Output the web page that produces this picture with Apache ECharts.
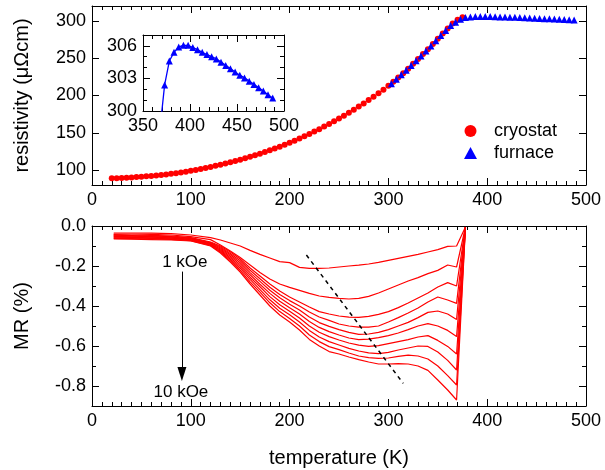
<!DOCTYPE html>
<html>
<head>
<meta charset="utf-8">
<script src="https://cdn.jsdelivr.net/npm/echarts@6/dist/echarts.min.js"></script>
<style>html,body{margin:0;background:#fff}#main{width:605px;height:470px}</style>
</head>
<body>
<div id="main"></div>
<script>
// resistivity, cryostat (K, µΩcm)
const tempCryo = [20, 25, 30, 35, 40, 45, 50, 55, 60, 65, 70, 75, 80, 85, 90, 95, 100, 105, 110, 115,
  120, 125, 130, 135, 140, 145, 150, 155, 160, 165, 170, 175, 180, 185, 190, 195, 200, 205, 210, 215,
  220, 225, 230, 235, 240, 245, 250, 255, 260, 265, 270, 275, 280, 285, 290, 295, 300, 305, 310, 315,
  320, 325, 330, 335, 340, 345, 350, 355, 360, 365, 370, 375];
const rhoCryo = [89.0, 89.2, 89.5, 89.8, 90.2, 90.6, 91.1, 91.6, 92.2, 92.8, 93.5, 94.2, 95.0, 95.9, 96.9, 97.9, 99.0, 100.2, 101.5, 102.8,
  104.2, 105.7, 107.2, 108.8, 110.5, 112.2, 114.0, 115.9, 117.9, 119.9, 122.0, 124.2, 126.5, 128.9, 131.4, 134.0, 136.7, 139.4, 142.3, 145.3,
  148.4, 151.6, 154.9, 158.3, 161.8, 165.4, 169.1, 172.9, 176.8, 180.9, 185.1, 189.4, 193.8, 198.3, 203.0, 207.8, 213.0, 218.5, 224.0, 230.0,
  236.0, 242.5, 249.0, 255.5, 262.0, 269.0, 276.0, 283.0, 290.0, 296.5, 301.5, 304.8];

// resistivity, furnace
const tempFurn = [303, 308, 313, 318, 323, 328, 333, 338, 343, 348, 353, 358, 363, 368, 373, 378, 383, 388, 393, 398,
  403, 408, 413, 418, 423, 428, 433, 438, 443, 448, 453, 458, 463, 468, 473, 478, 483, 488];
const rhoFurn = [215.7, 221.8, 227.8, 233.8, 240.2, 246.6, 253.0, 259.5, 266.3, 273.3, 280.3, 287.3, 294.0, 298.3, 302.4, 304.6, 305.4, 305.9, 306.05, 306.05,
  305.85, 305.65, 305.4, 305.2, 305.0, 304.8, 304.5, 304.2, 303.9, 303.6, 303.3, 303.05, 302.75, 302.45, 302.15, 301.85, 301.5, 301.2];

// magnetoresistance (%), 1..10 kOe
const tempMR = [22, 40, 60, 80, 100, 120, 130, 140, 150, 160, 170, 180, 190, 200, 210, 220, 230, 240, 250, 260,
  270, 280, 290, 300, 310, 320, 330, 340, 350, 360, 369, 378];
const mr1 = [-0.035, -0.035, -0.036, -0.038, -0.045, -0.058, -0.07, -0.085, -0.1, -0.122, -0.142, -0.16, -0.178, -0.183, -0.207, -0.212, -0.212, -0.21, -0.205, -0.2,
  -0.196, -0.19, -0.182, -0.172, -0.162, -0.152, -0.142, -0.13, -0.118, -0.102, -0.1, -0.005];
const mr2 = [-0.04, -0.04, -0.042, -0.045, -0.053, -0.068, -0.095, -0.125, -0.158, -0.195, -0.232, -0.265, -0.29, -0.307, -0.322, -0.337, -0.35, -0.357, -0.362, -0.365,
  -0.362, -0.352, -0.335, -0.315, -0.295, -0.275, -0.258, -0.238, -0.222, -0.195, -0.205, -0.005];
const mr3 = [-0.043, -0.045, -0.047, -0.05, -0.058, -0.08, -0.1, -0.13, -0.165, -0.21, -0.25, -0.29, -0.325, -0.355, -0.38, -0.405, -0.428, -0.44, -0.45, -0.456,
  -0.457, -0.452, -0.442, -0.428, -0.408, -0.385, -0.36, -0.335, -0.305, -0.283, -0.3, -0.005];
const mr4 = [-0.046, -0.048, -0.05, -0.053, -0.06, -0.083, -0.105, -0.137, -0.174, -0.221, -0.264, -0.306, -0.342, -0.373, -0.4, -0.43, -0.455, -0.472, -0.49, -0.5,
  -0.506, -0.506, -0.5, -0.48, -0.458, -0.435, -0.41, -0.38, -0.355, -0.37, -0.387, -0.005];
const mr5 = [-0.049, -0.051, -0.053, -0.056, -0.063, -0.086, -0.11, -0.144, -0.184, -0.233, -0.277, -0.321, -0.359, -0.391, -0.42, -0.455, -0.483, -0.502, -0.518, -0.532,
  -0.542, -0.54, -0.532, -0.518, -0.5, -0.482, -0.458, -0.432, -0.425, -0.44, -0.467, -0.005];
const mr6 = [-0.052, -0.054, -0.056, -0.059, -0.065, -0.089, -0.115, -0.151, -0.193, -0.244, -0.291, -0.337, -0.376, -0.409, -0.44, -0.478, -0.507, -0.528, -0.545, -0.56,
  -0.568, -0.566, -0.558, -0.548, -0.535, -0.518, -0.5, -0.488, -0.5, -0.522, -0.553, -0.005];
const mr7 = [-0.056, -0.057, -0.059, -0.061, -0.068, -0.091, -0.12, -0.159, -0.202, -0.256, -0.304, -0.353, -0.394, -0.426, -0.46, -0.5, -0.531, -0.553, -0.57, -0.585,
  -0.596, -0.602, -0.598, -0.588, -0.578, -0.568, -0.555, -0.548, -0.572, -0.602, -0.64, -0.005];
const mr8 = [-0.059, -0.06, -0.062, -0.064, -0.07, -0.094, -0.125, -0.166, -0.211, -0.267, -0.318, -0.369, -0.411, -0.444, -0.48, -0.522, -0.555, -0.578, -0.595, -0.612,
  -0.625, -0.634, -0.638, -0.632, -0.62, -0.61, -0.6, -0.602, -0.63, -0.672, -0.72, -0.005];
const mr9 = [-0.062, -0.063, -0.065, -0.067, -0.073, -0.097, -0.13, -0.173, -0.221, -0.279, -0.331, -0.384, -0.428, -0.462, -0.5, -0.545, -0.578, -0.603, -0.618, -0.635,
  -0.65, -0.658, -0.662, -0.66, -0.652, -0.646, -0.65, -0.665, -0.7, -0.748, -0.795, -0.005];
const mr10 = [-0.065, -0.066, -0.068, -0.07, -0.075, -0.1, -0.135, -0.18, -0.23, -0.29, -0.345, -0.4, -0.445, -0.48, -0.52, -0.567, -0.6, -0.628, -0.64, -0.655,
  -0.668, -0.68, -0.69, -0.69, -0.688, -0.69, -0.7, -0.722, -0.77, -0.82, -0.87, -0.005];
const mrCurves = [mr1, mr2, mr3, mr4, mr5, mr6, mr7, mr8, mr9, mr10];

// annotations in the MR panel (data coords)
const guideLine = [[217, -0.145], [315, -0.787]];
const arrowFrom = [91, -0.228];
const arrowTo = [91, -0.74];
const fieldLabels = [{name: '1 kOe', value: [94, -0.183]}, {name: '10 kOe', value: [90, -0.83]}];

const rhoTicks = [100, 150, 200, 250, 300];
const mrMajorTicks = [-0.8, -0.6, -0.4, -0.2, 0];

const FONT = 'Liberation Sans, Arial, sans-serif';
const chart = echarts.init(document.getElementById('main'));

function zip(xs, ys) {
  return xs.map((x, i) => [x, ys[i]]);
}

// one side of a boxed frame, ticks pointing inward
function side(extra, labels) {
  let a = {
    type: 'value',
    axisLine: {show: true, onZero: false, lineStyle: {color: '#000', width: 1}},
    axisTick: {show: true, inside: true, length: 7, lineStyle: {color: '#000'}},
    splitLine: {show: false},
    axisLabel: {show: labels, color: '#000', fontSize: 18, fontFamily: FONT, margin: 6}
  };
  return Object.assign(a, extra);
}

let mrSeries = mrCurves.map((c, i) => ({
  name: (i + 1) + ' kOe',
  type: 'line',
  xAxisIndex: 2,
  yAxisIndex: 2,
  data: zip(tempMR, c),
  symbol: 'none',
  lineStyle: {color: '#ff0000', width: 1.2},
  z: 3
}));

let option = {
  animation: false,
  backgroundColor: '#fff',
  textStyle: {fontFamily: FONT},
  grid: [
    {left: 92, top: 6, width: 494, height: 179},
    {left: 92, top: 226, width: 494, height: 180},
    {left: 143, top: 35, width: 141, height: 76, show: true, backgroundColor: '#fff', borderWidth: 0}
  ],
  legend: {
    data: ['cryostat', 'furnace'],
    orient: 'vertical',
    left: 459,
    top: 117,
    itemWidth: 13,
    itemHeight: 12,
    itemGap: 4,
    textStyle: {fontSize: 18, color: '#000', fontFamily: FONT, padding: [0, 0, 0, 12]}
  },
  xAxis: [
    side({gridIndex: 0, position: 'bottom', min: 0, max: 500, interval: 100,
      minorTick: {show: true, splitNumber: 10, length: 4, lineStyle: {color: '#000'}}}, true),
    side({gridIndex: 0, position: 'top', min: 0, max: 500, interval: 100,
      minorTick: {show: true, splitNumber: 10, length: 4, lineStyle: {color: '#000'}}}, false),
    side({gridIndex: 1, position: 'bottom', min: 0, max: 500, interval: 100,
      name: 'temperature (K)', nameLocation: 'middle', nameGap: 42,
      nameTextStyle: {fontSize: 20, color: '#000', fontFamily: FONT},
      minorTick: {show: true, splitNumber: 10, length: 4, lineStyle: {color: '#000'}}}, true),
    side({gridIndex: 1, position: 'top', min: 0, max: 500, interval: 100,
      minorTick: {show: true, splitNumber: 10, length: 4, lineStyle: {color: '#000'}}}, false),
    side({gridIndex: 2, position: 'bottom', min: 350, max: 500, interval: 50,
      minorTick: {show: true, splitNumber: 5, length: 4, lineStyle: {color: '#000'}}}, true),
    side({gridIndex: 2, position: 'top', min: 350, max: 500, interval: 50,
      minorTick: {show: true, splitNumber: 5, length: 4, lineStyle: {color: '#000'}}}, false)
  ],
  yAxis: [
    side({gridIndex: 0, position: 'left', min: 80, max: 320,
      name: 'resistivity (μΩcm)', nameLocation: 'middle', nameGap: 60,
      nameTextStyle: {fontSize: 20, color: '#000', fontFamily: FONT}}, true),
    side({gridIndex: 0, position: 'right', min: 80, max: 320}, false),
    side({gridIndex: 1, position: 'left', min: -0.9, max: 0, interval: 0.1,
      name: 'MR (%)', nameLocation: 'middle', nameGap: 60,
      nameTextStyle: {fontSize: 20, color: '#000', fontFamily: FONT}}, true),
    side({gridIndex: 1, position: 'right', min: -0.9, max: 0, interval: 0.1}, false),
    side({gridIndex: 1, position: 'left', min: -0.9, max: 0}, false),
    side({gridIndex: 1, position: 'right', min: -0.9, max: 0}, false),
    side({gridIndex: 2, position: 'left', min: 300, max: 307, interval: 3,
      minorTick: {show: true, splitNumber: 3, length: 4, lineStyle: {color: '#000'}}}, true),
    side({gridIndex: 2, position: 'right', min: 300, max: 307, interval: 3,
      minorTick: {show: true, splitNumber: 3, length: 4, lineStyle: {color: '#000'}}}, false)
  ],
  series: [
    {
      name: 'cryostat', type: 'scatter', xAxisIndex: 0, yAxisIndex: 0,
      data: zip(tempCryo, rhoCryo), symbol: 'circle', symbolSize: 6,
      itemStyle: {color: '#ff0000', opacity: 1}, z: 3
    },
    {
      name: 'furnace', type: 'scatter', xAxisIndex: 0, yAxisIndex: 0,
      data: zip(tempFurn, rhoFurn), symbol: 'triangle', symbolSize: 7,
      itemStyle: {color: '#0000ff', opacity: 1}, z: 4
    },
    {
      name: 'furnace-inset', type: 'line', xAxisIndex: 4, yAxisIndex: 6,
      data: zip(tempFurn, rhoFurn), symbol: 'triangle', symbolSize: 7, showAllSymbol: true,
      itemStyle: {color: '#0000ff'}, lineStyle: {color: '#0000ff', width: 1.3}, clip: true, z: 5
    }
  ].concat(mrSeries).concat([
    {
      name: 'guide', type: 'line', xAxisIndex: 2, yAxisIndex: 2,
      data: guideLine, symbol: 'none',
      lineStyle: {color: '#000', width: 1.5, type: [4, 4]}, z: 4
    },
    {
      name: 'arrow', type: 'line', xAxisIndex: 2, yAxisIndex: 2, data: [],
      markLine: {
        silent: true, symbol: ['none', 'triangle'], symbolSize: [9, 14],
        label: {show: false},
        lineStyle: {color: '#000', width: 1, type: 'solid'},
        itemStyle: {color: '#000'},
        data: [[{coord: arrowFrom}, {coord: arrowTo}]]
      }
    },
    {
      name: 'labels', type: 'scatter', xAxisIndex: 2, yAxisIndex: 2,
      data: fieldLabels, symbolSize: 0, itemStyle: {opacity: 1},
      label: {show: true, position: 'inside', formatter: '{b}', color: '#000', fontSize: 17,
        fontFamily: FONT, textBorderWidth: 0}
    }
  ])
};

// long ticks for the MR axis at every 0.2, short ones at 0.1, labels only on 0.2 steps
option.yAxis[2].axisTick.length = 4;
option.yAxis[3].axisTick.length = 4;
option.yAxis[2].axisLabel.formatter = function (v) {
  return Math.round(v * 10) % 2 === 0 ? v.toFixed(1) : '';
};
option.yAxis[4].axisLine.show = false;
option.yAxis[5].axisLine.show = false;
option.yAxis[4].axisTick.customValues = mrMajorTicks;
option.yAxis[5].axisTick.customValues = mrMajorTicks;
option.yAxis[0].axisTick.customValues = rhoTicks;
option.yAxis[0].axisLabel.customValues = rhoTicks;
option.yAxis[1].axisTick.customValues = rhoTicks;

chart.setOption(option);
</script>
</body>
</html>
